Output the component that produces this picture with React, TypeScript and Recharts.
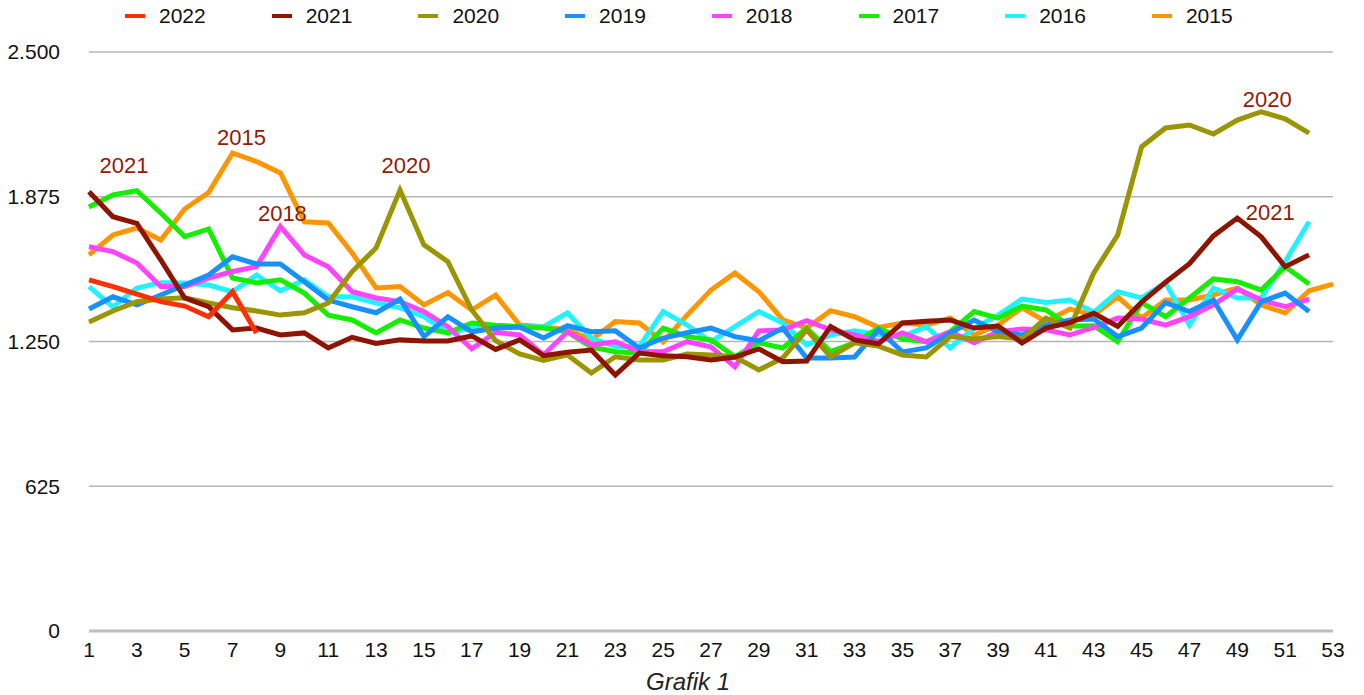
import { LineChart, Line, XAxis, YAxis, CartesianGrid } from "recharts";

// weekly values
const v2022 = [1516, 1487, 1455, 1422, 1403, 1357, 1465, 1287];
const v2021 = [
  1897, 1789, 1760, 1602, 1438, 1400, 1300, 1308, 1278, 1287, 1222, 1268, 1242,
  1257, 1252, 1252, 1274, 1216, 1257, 1189, 1204, 1213, 1105, 1200, 1188, 1184,
  1170, 1183, 1218, 1163, 1166, 1315, 1257, 1240, 1330, 1337, 1343, 1308, 1317,
  1244, 1308, 1332, 1372, 1315, 1420, 1506, 1586, 1706, 1783, 1702, 1573, 1624,
];
const v2020 = [
  1334, 1382, 1422, 1433, 1439, 1416, 1396, 1382, 1364, 1374, 1416, 1552, 1654,
  1904, 1667, 1595, 1386, 1253, 1196, 1168, 1192, 1114, 1184, 1170, 1170, 1196,
  1192, 1183, 1127, 1179, 1300, 1184, 1244, 1230, 1192, 1183, 1271, 1261, 1271,
  1261, 1351, 1308, 1546, 1710, 2091, 2172, 2185, 2146, 2206, 2242, 2211, 2150,
];
const v2019 = [
  1390, 1443, 1408, 1451, 1494, 1537, 1616, 1585, 1585, 1508, 1429, 1400, 1374,
  1433, 1271, 1357, 1292, 1308, 1313, 1265, 1318, 1292, 1296, 1222, 1265, 1288,
  1308, 1271, 1253, 1308, 1179, 1179, 1183, 1300, 1205, 1222, 1287, 1343, 1292,
  1278, 1321, 1343, 1347, 1271, 1308, 1418, 1379, 1429, 1257, 1422, 1459, 1379,
];
const v2018 = [
  1659, 1638, 1589, 1487, 1487, 1524, 1552, 1573, 1746, 1624, 1573, 1465, 1438,
  1422, 1379, 1314, 1218, 1290, 1278, 1192, 1292, 1235, 1249, 1206, 1206, 1250,
  1226, 1141, 1296, 1300, 1340, 1300, 1278, 1250, 1287, 1249, 1292, 1245, 1292,
  1304, 1300, 1278, 1311, 1351, 1347, 1321, 1357, 1408, 1477, 1429, 1400, 1433,
];
const v2017 = [
  1831, 1883, 1901, 1805, 1703, 1736, 1524, 1503, 1516, 1459, 1364, 1343, 1287,
  1343, 1308, 1287, 1330, 1320, 1314, 1308, 1292, 1226, 1206, 1200, 1308, 1271,
  1257, 1184, 1244, 1222, 1308, 1206, 1244, 1308, 1261, 1249, 1292, 1379, 1351,
  1403, 1386, 1317, 1318, 1249, 1418, 1357, 1438, 1520, 1508, 1472, 1573, 1498,
];
const v2016 = [
  1487, 1399, 1481, 1504, 1503, 1494, 1465, 1537, 1469, 1516, 1443, 1443, 1416,
  1395, 1357, 1287, 1308, 1310, 1314, 1314, 1373, 1265, 1228, 1228, 1379, 1321,
  1249, 1314, 1379, 1330, 1235, 1278, 1296, 1280, 1271, 1314, 1222, 1308, 1364,
  1433, 1418, 1429, 1376, 1465, 1438, 1503, 1321, 1481, 1438, 1438, 1595, 1767,
];
const v2015 = [
  1624, 1710, 1740, 1688, 1822, 1893, 2064, 2027, 1978, 1767, 1762, 1632, 1481,
  1487, 1408, 1461, 1386, 1451, 1321, 1314, 1300, 1257, 1336, 1330, 1249, 1364,
  1472, 1546, 1465, 1343, 1308, 1383, 1357, 1311, 1330, 1321, 1351, 1278, 1321,
  1395, 1336, 1390, 1364, 1443, 1351, 1429, 1429, 1451, 1481, 1408, 1373, 1469,
  1498,
];

const xTicks = [1, 3, 5, 7, 9, 11, 13, 15, 17, 19, 21, 23, 25, 27, 29, 31, 33, 35, 37, 39, 41, 43, 45, 47, 49, 51, 53];
const yTicks = [0, 625, 1250, 1875, 2500];

// legend order
const series = [
  { key: "y2022", name: "2022", color: "#ff3000", values: v2022 },
  { key: "y2021", name: "2021", color: "#8e1400", values: v2021 },
  { key: "y2020", name: "2020", color: "#9a9500", values: v2020 },
  { key: "y2019", name: "2019", color: "#1890ff", values: v2019 },
  { key: "y2018", name: "2018", color: "#ff44ff", values: v2018 },
  { key: "y2017", name: "2017", color: "#16ee00", values: v2017 },
  { key: "y2016", name: "2016", color: "#22f2ff", values: v2016 },
  { key: "y2015", name: "2015", color: "#ff9600", values: v2015 },
];

// text tags next to some peaks
const annotations = [
  { year: "2021", week: 1, dx: 35, dy: -27 },
  { year: "2015", week: 7, dx: 9, dy: -16 },
  { year: "2018", week: 9, dx: 2, dy: -14 },
  { year: "2020", week: 14, dx: 6, dy: -25 },
  { year: "2020", week: 50, dx: 6, dy: -13 },
  { year: "2021", week: 49, dx: 33, dy: -6 },
];

const data = Array.from({ length: 53 }, (_, i) => {
  const row: Record<string, number | undefined> = { week: i + 1 };
  series.forEach((s) => {
    row[s.key] = s.values[i];
  });
  return row;
});

const FONT = '"Liberation Sans", Arial, sans-serif';
const annoColor = "#931a05";

function fmt(v: number) {
  if (v >= 1000) {
    return `${Math.floor(v / 1000)}.${String(v % 1000).padStart(3, "0")}`;
  }
  return String(v);
}

function makeLabel(year: string) {
  return (props: any) => {
    const a = annotations.find((n) => n.year === year && n.week - 1 === props.index);
    if (!a || props.x == null || props.y == null) return null;
    return (
      <text
        key={`${year}-${a.week}`}
        x={props.x + a.dx}
        y={props.y + a.dy + 8}
        textAnchor="middle"
        fill={annoColor}
        fontSize={22}
        fontFamily={FONT}
      >
        {year}
      </text>
    );
  };
}

function Legend() {
  return (
    <div style={{ position: "absolute", left: 0, top: 0, width: 1364, height: 32 }}>
      {series.map((s, i) => (
        <div
          key={s.key}
          style={{ position: "absolute", left: 125 + i * 146.7, top: 3, height: 26, display: "flex", alignItems: "center" }}
        >
          <span style={{ display: "inline-block", width: 20, height: 4, background: s.color }} />
          <span style={{ marginLeft: 14, fontFamily: FONT, fontSize: 21, color: "#111" }}>{s.name}</span>
        </div>
      ))}
    </div>
  );
}

export default function App() {
  const drawOrder = [...series].reverse();
  return (
    <div style={{ position: "absolute", left: 0, top: 0, width: 1364, height: 695, background: "#fff" }}>
      <LineChart width={1364} height={695} data={data} margin={{ top: 52, right: 31, bottom: 0, left: 0 }}>
        <CartesianGrid horizontal vertical={false} stroke="#b5b5b5" strokeWidth={1.3} />
        <XAxis
          dataKey="week"
          type="number"
          domain={[1, 53]}
          ticks={xTicks}
          interval={0}
          height={64}
          tickLine={false}
          tickSize={0}
          tickMargin={11}
          axisLine={{ stroke: "#bdbdbd", strokeWidth: 3 }}
          tick={{ fill: "#111", fontSize: 21, fontFamily: '"Liberation Sans Narrow", "Liberation Sans", Arial, sans-serif' }}
        />
        <YAxis
          type="number"
          domain={[0, 2500]}
          ticks={yTicks}
          width={89}
          axisLine={false}
          tickLine={false}
          tickSize={0}
          tickMargin={29}
          tickFormatter={fmt}
          tick={{ fill: "#111", fontSize: 21, fontFamily: FONT }}
        />
        {drawOrder.map((s) => (
          <Line
            key={s.key}
            dataKey={s.key}
            name={s.name}
            stroke={s.color}
            strokeWidth={5}
            dot={false}
            activeDot={false}
            isAnimationActive={false}
            label={makeLabel(s.name)}
          />
        ))}
      </LineChart>
      <Legend />
      <div
        style={{
          position: "absolute",
          left: 0,
          width: 1364,
          top: 668,
          textAlign: "center",
          fontFamily: FONT,
          fontStyle: "italic",
          fontSize: 24,
          color: "#222",
          paddingLeft: 6,
        }}
      >
        Grafik 1
      </div>
    </div>
  );
}
